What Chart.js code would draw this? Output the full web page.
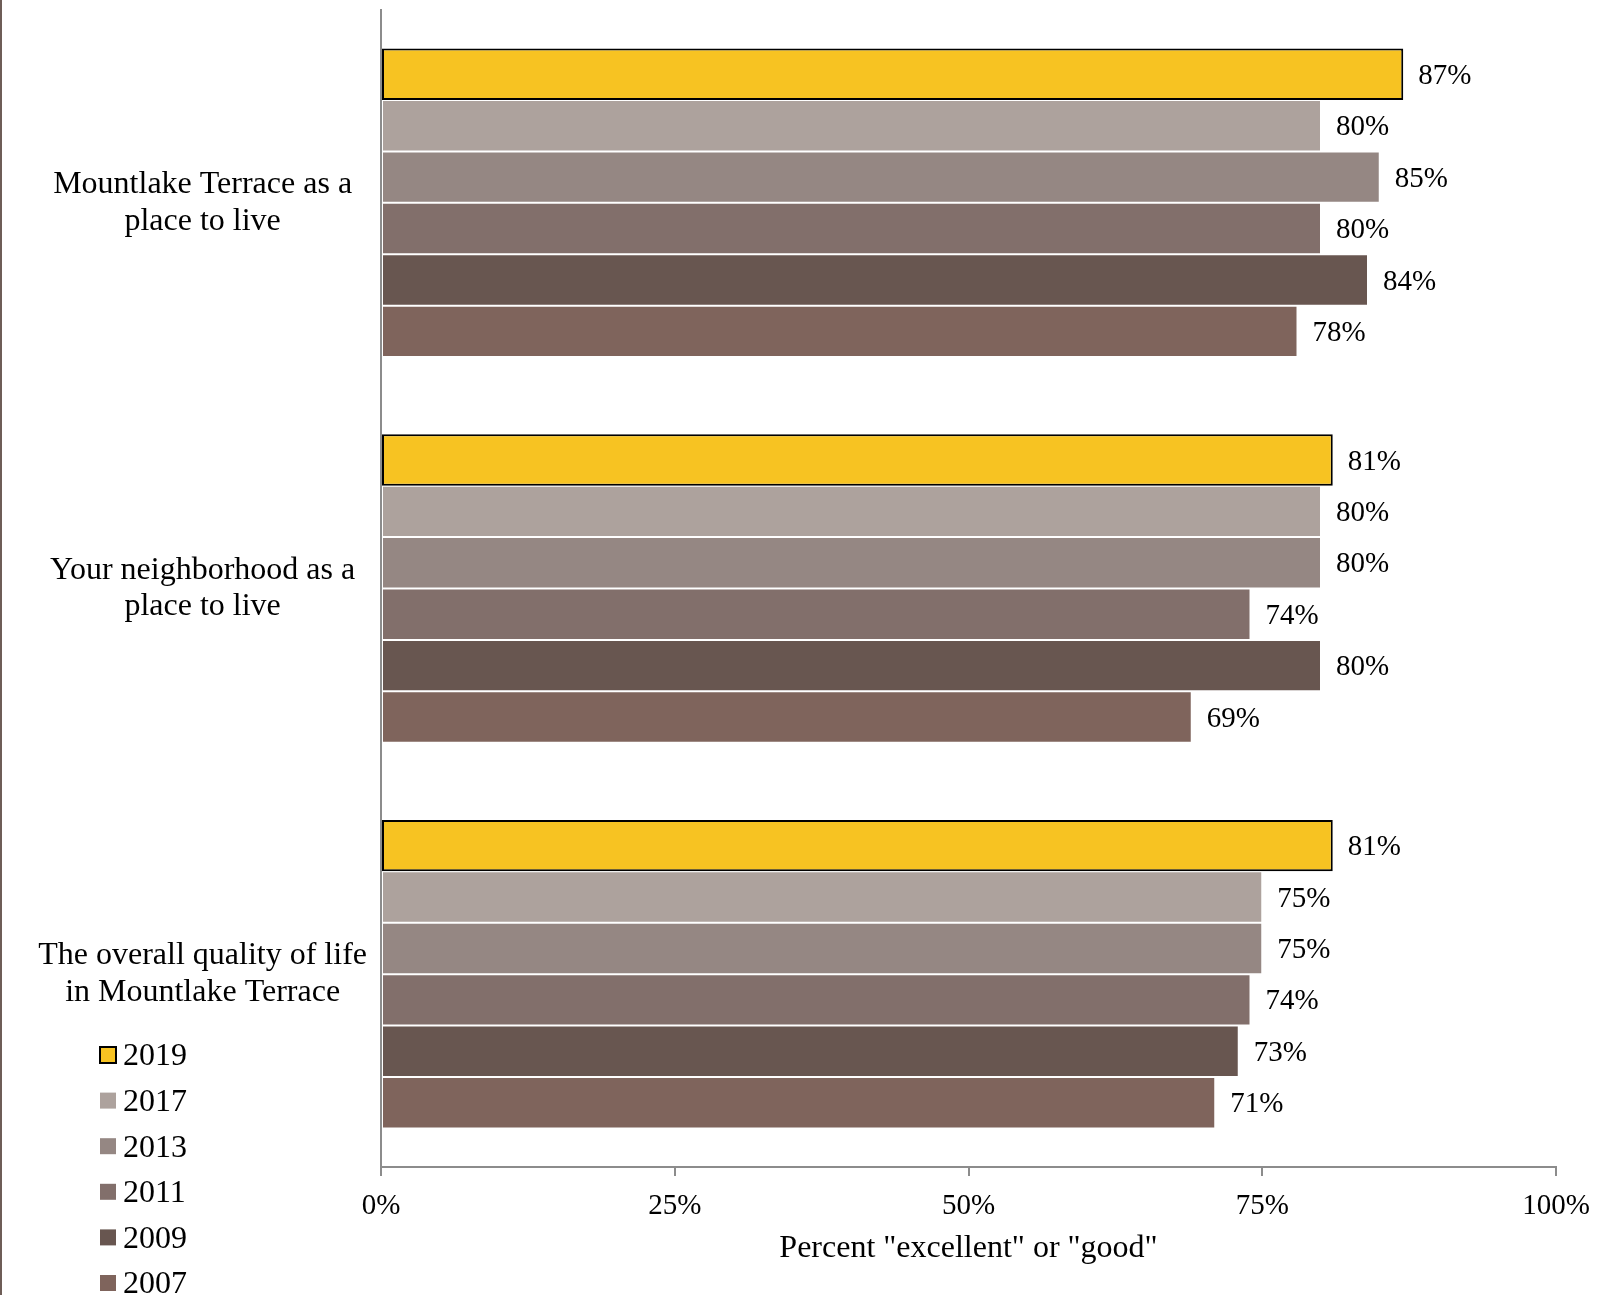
<!DOCTYPE html>
<html>
<head>
<meta charset="utf-8">
<script src="https://cdn.jsdelivr.net/npm/chart.js@4/dist/chart.umd.min.js"></script>
<style>
  html, body { margin: 0; padding: 0; background: #fff; }
  #wrap { width: 1601px; height: 1295px; position: relative; }
</style>
</head>
<body>
<div id="wrap"><canvas id="c"></canvas></div>
<script>
// ---- Data ----
const categories = [
  ["Mountlake Terrace as a", "place to live"],
  ["Your neighborhood as a", "place to live"],
  ["The overall quality of life", "in Mountlake Terrace"]
];
const seriesLabels = ["2019", "2017", "2013", "2011", "2009", "2007"];
const values2019 = [87, 81, 81];
const values2017 = [80, 80, 75];
const values2013 = [85, 80, 75];
const values2011 = [80, 74, 74];
const values2009 = [84, 80, 73];
const values2007 = [78, 69, 71];
const xTicks = [0, 25, 50, 75, 100];
const axisTitle = 'Percent "excellent" or "good"';

// ---- Styles ----
const FONT = "'Liberation Serif', 'Times New Roman', serif";
const FS = 29;   // ticks & value labels
const FL = 32;   // category labels, legend, axis title
const colors = ["#F7C322", "#ADA29D", "#958783", "#826F6B", "#685650", "#7F645C"];
const allValues = [values2019, values2017, values2013, values2011, values2009, values2007];

const datasets = seriesLabels.map((lab, i) => ({
  label: lab,
  data: allValues[i],
  backgroundColor: colors[i],
  borderColor: i === 0 ? "#000000" : "rgba(255,255,255,0.07)",
  borderWidth: i === 0 ? 2 : 1,
  borderSkipped: false,
  barPercentage: 1.0,
  categoryPercentage: 0.8
}));

const valueLabelPlugin = {
  id: "valueLabels",
  afterDatasetsDraw(chart) {
    const ctx = chart.ctx;
    ctx.save();
    ctx.font = FS + "px " + FONT;
    ctx.fillStyle = "#000";
    ctx.textAlign = "left";
    ctx.textBaseline = "middle";
    chart.data.datasets.forEach((ds, di) => {
      const meta = chart.getDatasetMeta(di);
      meta.data.forEach((bar, j) => {
        ctx.fillText(ds.data[j] + "%", bar.x + 15, bar.y + 2);
      });
    });
    ctx.restore();
  }
};

const legendPlugin = {
  id: "customLegend",
  afterDraw(chart) {
    const ctx = chart.ctx;
    ctx.save();
    ctx.font = FL + "px " + FONT;
    ctx.textAlign = "left";
    ctx.textBaseline = "middle";
    const x0 = 100, y0 = 1055, step = 45.6, box = 16;
    chart.data.datasets.forEach((ds, i) => {
      const cy = y0 + i * step;
      ctx.fillStyle = ds.backgroundColor;
      ctx.fillRect(x0, cy - box / 2, box, box);
      if (i === 0) {
        ctx.strokeStyle = "#000";
        ctx.lineWidth = 2;
        ctx.strokeRect(x0, cy - box / 2, box, box);
      }
      ctx.fillStyle = "#000";
      ctx.fillText(ds.label, x0 + 23, cy + 2);
    });
    ctx.restore();
  }
};

const frameLinePlugin = {
  id: "frameLine",
  afterDraw(chart) {
    const ctx = chart.ctx;
    ctx.save();
    ctx.fillStyle = "#6E5D57";
    ctx.fillRect(0, 0, 2, chart.height);
    ctx.restore();
  }
};

new Chart(document.getElementById("c"), {
  type: "bar",
  data: { labels: categories, datasets },
  plugins: [valueLabelPlugin, legendPlugin, frameLinePlugin],
  options: {
    indexAxis: "y",
    responsive: true,
    maintainAspectRatio: false,
    animation: false,
    layout: { padding: { top: 10, right: 45, bottom: 0, left: 0 } },
    plugins: {
      legend: { display: false },
      tooltip: { enabled: false },
      title: { display: false }
    },
    scales: {
      x: {
        min: 0,
        max: 100,
        afterFit: (s) => { s.height = 128; s.paddingLeft = 0; s.paddingRight = 0; },
        afterBuildTicks: (s) => { s.ticks = xTicks.map(v => ({ value: v })); },
        ticks: {
          callback: (v) => v + "%",
          font: { family: FONT, size: FS },
          color: "#000",
          padding: 13,
          maxRotation: 0
        },
        grid: {
          drawOnChartArea: false,
          drawTicks: true,
          tickLength: 9,
          color: "#8C8C8C",
          lineWidth: 2
        },
        border: { display: true, color: "#8C8C8C", width: 2 },
        title: {
          display: true,
          text: axisTitle,
          font: { family: FONT, size: FL },
          color: "#000",
          padding: { top: 0, bottom: 27 }
        }
      },
      y: {
        afterFit: (s) => { s.width = 381; s.paddingTop = 0; s.paddingBottom = 0; },
        ticks: {
          crossAlign: "center",
          font: { family: FONT, size: FL, lineHeight: 1.15 },
          color: "#000",
          padding: 14
        },
        grid: { display: false, drawTicks: false, tickLength: 0 },
        border: { display: true, color: "#8C8C8C", width: 2 }
      }
    }
  }
});
</script>
</body>
</html>
